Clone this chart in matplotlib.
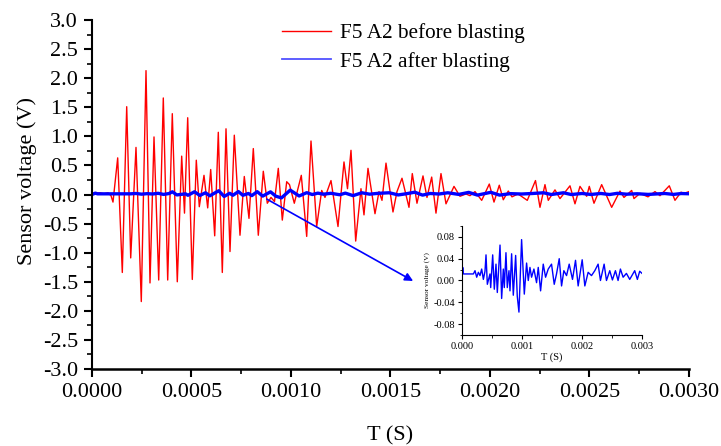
import matplotlib
matplotlib.use('Agg')
import matplotlib.pyplot as plt
from matplotlib.lines import Line2D
from matplotlib.ticker import MultipleLocator, FormatStrFormatter

plt.rcParams['font.family'] = ['Liberation Serif', 'DejaVu Serif']
plt.rcParams['axes.unicode_minus'] = False

# before blasting (red), extrema
t_before = [0.0, 0.0000402, 0.0000603, 0.0000804, 0.0000955, 0.0001055, 0.0001291, 0.0001523,
            0.0001744, 0.0001945, 0.0002211, 0.0002477, 0.0002714, 0.0002915, 0.0003116, 0.0003352,
            0.0003583, 0.0003804, 0.0004035, 0.0004286, 0.0004507, 0.0004648, 0.0004809, 0.0005040,
            0.0005241, 0.0005392, 0.0005628, 0.0005814, 0.0005965, 0.0006166, 0.0006347, 0.0006548,
            0.0006734, 0.0006935, 0.0007151, 0.0007437, 0.0007653, 0.0007889, 0.0008106, 0.0008357,
            0.0008608, 0.0008809, 0.0008995, 0.0009171, 0.0009362, 0.0009563, 0.0009784, 0.0009925,
            0.0010166, 0.0010518, 0.0010789, 0.0011005, 0.0011291, 0.0011543, 0.0011708, 0.0012010,
            0.0012362, 0.0012663, 0.0012839, 0.0013015, 0.0013251, 0.0013517, 0.0013668, 0.0013869,
            0.0014221, 0.0014422, 0.0014573, 0.0014774, 0.0015125, 0.0015326, 0.0015578, 0.0015929,
            0.0016095, 0.0016331, 0.0016633, 0.0016834, 0.0017070, 0.0017286, 0.0017537, 0.0017789,
            0.0018191, 0.0018492, 0.0018794, 0.0018995, 0.0019246, 0.0019583, 0.0019965, 0.0020201,
            0.0020467, 0.0020668, 0.0020919, 0.0021105, 0.0021407, 0.0021874, 0.0022286, 0.0022512,
            0.0022763, 0.0022929, 0.0023266, 0.0023517, 0.0024020, 0.0024271, 0.0024522, 0.0024859,
            0.0024990, 0.0025226, 0.0025612, 0.0026115, 0.0026532, 0.0026733, 0.0027120, 0.0027236,
            0.0027537, 0.0027939, 0.0028291, 0.0028542, 0.0029010, 0.0029296, 0.0029598, 0.0029749,
            0.0030000]
v_before = [0.02, 0.03, 0.01, 0.03, -0.02, -0.13, 0.63, -1.34,
            1.51, -1.09, 0.81, -1.84, 2.13, -1.52, 0.99, -1.47,
            1.66, -1.47, 1.39, -1.50, 0.66, -0.32, 1.32, -1.46,
            0.59, -0.21, 0.33, -0.23, 0.43, -0.71, 1.07, -1.34,
            1.13, -0.98, 1.02, -0.70, 0.31, -0.41, 0.79, -0.70,
            0.40, -0.15, -0.05, -0.12, 0.45, -0.44, 0.22, 0.17,
            -0.15, 0.33, -0.72, 0.92, -0.55, 0.07, -0.05, 0.24,
            -0.55, 0.56, 0.10, 0.76, -0.80, 0.10, -0.35, 0.45,
            -0.33, 0.05, -0.10, 0.54, -0.30, 0.05, 0.28, -0.22,
            0.36, -0.15, 0.32, -0.05, 0.30, -0.32, 0.36, -0.16,
            0.14, -0.03, 0.01, -0.02, 0.05, -0.10, 0.18, -0.13,
            0.16, -0.09, 0.06, -0.04, 0.01, -0.10, 0.24, -0.22,
            0.17, -0.10, 0.08, -0.07, 0.15, -0.16, 0.14, -0.03,
            0.14, -0.15, 0.17, -0.22, 0.06, -0.05, 0.07, -0.07,
            0.02, -0.04, 0.05, -0.02, 0.15, -0.10, 0.04, 0.02,
            0.05]

# after blasting (blue)
t_after = [0.0, 0.0000166, 0.0000277, 0.000194, 0.000221, 0.000249, 0.000277, 0.000304,
           0.000332, 0.000360, 0.000387, 0.000404, 0.000426, 0.000470, 0.000482, 0.000515,
           0.000542, 0.000570, 0.000592, 0.000637, 0.000664, 0.000692, 0.000708, 0.000736,
           0.000758, 0.000786, 0.000803, 0.000830, 0.000858, 0.000897, 0.000924, 0.000952,
           0.000996, 0.001041, 0.001079, 0.001107, 0.001135, 0.001162, 0.001201, 0.001245,
           0.001273, 0.001312, 0.001356, 0.001395, 0.001439, 0.001494, 0.001539, 0.001577,
           0.001622, 0.001661, 0.001699, 0.001744, 0.001788, 0.001843, 0.001893, 0.001937,
           0.002004, 0.002048, 0.002103, 0.002159, 0.002214, 0.002269, 0.002308, 0.002369,
           0.002408, 0.002463, 0.002507, 0.002557, 0.002601, 0.002640, 0.002685, 0.002740,
           0.002795, 0.002878, 0.002922, 0.002961, 0.003000]
v_after = [0.000, 0.024, 0.012, 0.012, 0.018, 0.006, 0.015, 0.009,
           0.021, 0.002, 0.017, 0.047, -0.007, 0.012, -0.013, 0.047,
           -0.016, 0.030, -0.022, 0.065, -0.033, 0.021, -0.013, 0.051,
           -0.013, 0.018, -0.019, 0.049, -0.027, 0.046, -0.029, -0.058,
           0.075, -0.025, 0.032, 0.000, 0.024, 0.006, 0.021, -0.004,
           0.024, -0.019, 0.030, 0.006, 0.021, 0.030, -0.007, 0.012,
           0.040, -0.010, 0.018, 0.009, 0.030, 0.002, 0.037, -0.010,
           0.038, -0.010, 0.015, 0.009, 0.018, 0.030, 0.000, 0.030,
           0.000, 0.018, 0.001, 0.018, 0.000, 0.021, 0.006, 0.013,
           0.002, 0.018, 0.002, 0.017, 0.013]

fig = plt.figure(figsize=(7.21, 4.46), dpi=100)
ax = fig.add_axes([0.1276, 0.1726, 0.828, 0.7825])

ax.plot(t_before, v_before, color='#ff0000', lw=1.0)
ax.plot(t_after, v_after, color='#0000ff', lw=2.4)

ax.set_xlim(0, 0.003)
ax.set_ylim(-3.0, 3.0)
ax.xaxis.set_major_locator(MultipleLocator(0.0005))
ax.xaxis.set_minor_locator(MultipleLocator(0.00025))
ax.yaxis.set_major_locator(MultipleLocator(0.5))
ax.yaxis.set_minor_locator(MultipleLocator(0.25))
ax.xaxis.set_major_formatter(FormatStrFormatter('%.4f'))
ax.yaxis.set_major_formatter(FormatStrFormatter('%.1f'))
ax.spines['top'].set_visible(False)
ax.spines['right'].set_visible(False)
ax.spines['left'].set_linewidth(1.5)
ax.spines['bottom'].set_linewidth(1.8)
ax.tick_params(which='major', direction='out', length=6, width=1.5, labelsize=16, pad=4)
ax.tick_params(which='minor', direction='out', length=3.5, width=1.2)
ax.set_xlabel('T (S)', fontsize=16)
ax.set_ylabel('Sensor voltage (V)', fontsize=16)
ax.xaxis.set_label_coords(0.5, -0.165)
ax.yaxis.set_label_coords(-0.092, 0.54)

handles = [Line2D([], [], color='#ff0000', lw=1.0),
           Line2D([], [], color='#5050ff', lw=1.3)]
ax.legend(handles, ['F5 A2 before blasting', 'F5 A2 after blasting'],
          loc='upper left', bbox_to_anchor=(0.287, 1.045), frameon=False,
          fontsize=15.3, handlelength=2.3, handletextpad=0.4, labelspacing=0.4)

# inset
ins = fig.add_axes([0.6404, 0.2489, 0.2501, 0.2444])
ins.plot(t_after, v_after, color='#0000ff', lw=1.0)
ins.set_xlim(0, 0.003)
ins.set_ylim(-0.1, 0.1)
ins.xaxis.set_major_locator(MultipleLocator(0.001))
ins.xaxis.set_minor_locator(MultipleLocator(0.0005))
ins.yaxis.set_major_locator(MultipleLocator(0.04))
ins.yaxis.set_minor_locator(MultipleLocator(0.02))
ins.xaxis.set_major_formatter(FormatStrFormatter('%.3f'))
ins.yaxis.set_major_formatter(FormatStrFormatter('%.2f'))
ins.spines['top'].set_visible(False)
ins.spines['right'].set_visible(False)
ins.tick_params(which='major', direction='out', length=3, width=0.8, labelsize=7.5, pad=2)
ins.tick_params(which='minor', direction='out', length=1.8, width=0.6)
ins.set_xlabel('T (S)', fontsize=7.5, labelpad=1)
ins.set_ylabel('Sensor voltage (V)', fontsize=5.3, labelpad=2)
ins.patch.set_alpha(0)

ax.annotate('', xy=(0.573, 0.370), xycoords='figure fraction',
            xytext=(0.000879, -0.08), textcoords='data',
            arrowprops=dict(arrowstyle='-|>', color='#0000ff', lw=1.2,
                            mutation_scale=12, shrinkA=0, shrinkB=0))

plt.savefig('out.png', dpi=100)
